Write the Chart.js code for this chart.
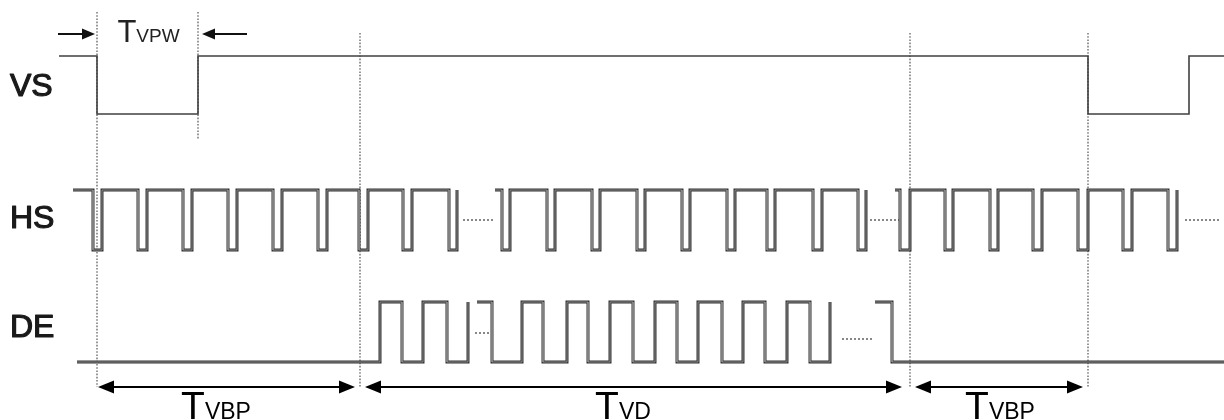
<!DOCTYPE html>
<html><head><meta charset="utf-8">
<script src="https://cdn.jsdelivr.net/npm/chart.js@4"></script>
<style>html,body{margin:0;padding:0;background:#fff;}#wrap{width:1224px;height:420px;position:relative;}</style>
</head><body><div id="wrap"><canvas id="c"></canvas></div>
<script>
// ---------------- data (time axis units, logic levels 0/1) ----------------
const signalNames = ['VS', 'HS', 'DE'];

const vsStarts = [59];
const vsEnds = [1224];
const vsStartLevels = [1];
const vsEdges = [[97, 198, 1088, 1189]];

const hsStarts = [73, 495, 895];
const hsEnds = [457, 866, 1177];
const hsStartLevels = [1, 1, 1];
const hsEdges1 = [93, 102, 138, 147, 183, 192, 228, 237, 273, 282, 318, 327, 359, 368, 403, 412, 449, 457];
const hsEdges2 = [502, 510, 547, 555, 592, 600, 637, 645, 682, 690, 727, 735, 767, 775, 813, 822, 858, 866];
const hsEdges3 = [900, 910, 945, 953, 990, 998, 1033, 1042, 1078, 1088, 1123, 1132, 1168, 1177];

const deStarts = [77, 477, 875];
const deEnds = [468, 830, 1224];
const deStartLevels = [0, 1, 1];
const deEdges1 = [380, 402, 423, 447, 468];
const deEdges2 = [492, 522, 543, 567, 588, 610, 633, 655, 677, 698, 722, 743, 765, 787, 810, 830];
const deEdges3 = [892];

const hsEllipsis = [[463, 495], [870, 900], [1185, 1220]];
const deEllipsis = [[475, 495], [842, 872]];

const markerTimes = [97, 198, 360, 910, 1088];

const spanBounds = [[97, 360], [360, 910], [910, 1088]];
const spanSubs = ['VBP', 'VD', 'VBP'];
const spanLabelCenters = [216, 623, 1000];

const pulseBounds = [97, 198];
const pulseSub = 'VPW';

// ---------------- layout / style ----------------
const lanes = { VS: { hi: 56, lo: 114 }, HS: { hi: 190, lo: 250 }, DE: { hi: 302, lo: 362 } };
const ellipsisY = { HS: [220, 220, 220], DE: [333, 339] };
const markerExtents = [[12, 387], [12, 140], [33, 387], [33, 388], [33, 388]];
const labelBaselines = { VS: 96, HS: 228, DE: 337 };
const FONT = "'Liberation Sans', Arial, sans-serif";

function yOf(lane, level) { return level ? lanes[lane].hi : lanes[lane].lo; }

function stepGroup(lane, start, end, level, edges) {
  const pts = [];
  let l = level;
  pts.push({ x: start, y: yOf(lane, l) });
  for (const e of edges) {
    pts.push({ x: e, y: yOf(lane, l) });
    l = 1 - l;
    pts.push({ x: e, y: yOf(lane, l) });
  }
  if (end > edges[edges.length - 1]) pts.push({ x: end, y: yOf(lane, l) });
  return pts;
}
function joinGroups(lane, starts, ends, levels, edgesList) {
  let pts = [];
  starts.forEach((s, i) => {
    if (i > 0) pts.push({ x: s - 0.5, y: null });
    pts = pts.concat(stepGroup(lane, s, ends[i], levels[i], edgesList[i]));
  });
  return pts;
}

const vsPts = joinGroups('VS', vsStarts, vsEnds, vsStartLevels, vsEdges);
const hsPts = joinGroups('HS', hsStarts, hsEnds, hsStartLevels, [hsEdges1, hsEdges2, hsEdges3]);
const dePts = joinGroups('DE', deStarts, deEnds, deStartLevels, [deEdges1, deEdges2, deEdges3]);

function segs(list, ys) {
  const pts = [];
  list.forEach((r, i) => {
    if (i > 0) pts.push({ x: r[0] - 0.5, y: null });
    pts.push({ x: r[0], y: ys[i] }, { x: r[1], y: ys[i] });
  });
  return pts;
}
const ellPts = segs(hsEllipsis, ellipsisY.HS).concat([{ x: 0, y: null }], segs(deEllipsis, ellipsisY.DE));
const markerPts = [];
markerTimes.forEach((t, i) => {
  if (i > 0) markerPts.push({ x: t, y: null });
  markerPts.push({ x: t, y: markerExtents[i][0] }, { x: t, y: markerExtents[i][1] });
});

function lineDs(data, color, width, order, dash) {
  return { type: 'line', data, borderColor: color, borderWidth: width, pointRadius: 0, tension: 0,
    spanGaps: false, fill: false, order, borderDash: dash || [], borderCapStyle: 'butt', borderJoinStyle: 'miter' };
}

// ---------------- annotation plugin ----------------
function arrowHead(ctx, x, y, dir, len, half) {
  ctx.beginPath();
  ctx.moveTo(x, y);
  ctx.lineTo(x - dir * len, y - half);
  ctx.lineTo(x - dir * len, y + half);
  ctx.closePath();
  ctx.fill();
}
function tLabel(ctx, cx, base, sub, bigSize, subSize) {
  ctx.font = bigSize + 'px ' + FONT;
  const wT = ctx.measureText('T').width;
  ctx.font = subSize + 'px ' + FONT;
  const wS = ctx.measureText(sub).width;
  const x0 = cx - (wT + wS) / 2;
  ctx.font = bigSize + 'px ' + FONT;
  ctx.fillText('T', x0, base);
  ctx.font = subSize + 'px ' + FONT;
  ctx.fillText(sub, x0 + wT, base);
}
const annot = {
  id: 'annot',
  afterDatasetsDraw(chart) {
    const ctx = chart.ctx, X = chart.scales.x, Y = chart.scales.y;
    ctx.save();
    ctx.fillStyle = '#000'; ctx.strokeStyle = '#000';
    ctx.textBaseline = 'alphabetic'; ctx.textAlign = 'left';
    // signal names
    ctx.font = '32px ' + FONT;
    ctx.fillStyle = '#1a1a1a'; ctx.strokeStyle = '#1a1a1a'; ctx.lineWidth = 1.2; ctx.lineJoin = 'round';
    signalNames.forEach(n => {
      const px = X.getPixelForValue(10), py = Y.getPixelForValue(labelBaselines[n]);
      ctx.fillText(n, px, py);
      ctx.strokeText(n, px, py);
    });
    ctx.fillStyle = '#000'; ctx.strokeStyle = '#000';
    // bottom span arrows
    const ay = Y.getPixelForValue(387);
    ctx.lineWidth = 2;
    spanBounds.forEach((b, i) => {
      const x1 = X.getPixelForValue(b[0]) + (i === 0 ? 1 : 5);
      const x2 = X.getPixelForValue(b[1]) - (i === 1 ? 8 : 5);
      ctx.beginPath(); ctx.moveTo(x1 + 6, ay); ctx.lineTo(x2 - 6, ay); ctx.stroke();
      arrowHead(ctx, x1, ay, -1, 16, 6.5);
      arrowHead(ctx, x2, ay, 1, 16, 6.5);
      tLabel(ctx, X.getPixelForValue(spanLabelCenters[i]), Y.getPixelForValue(419), spanSubs[i], 39, 23);
    });
    // top pulse-width arrows
    const ty = Y.getPixelForValue(34);
    ctx.lineWidth = 2;
    ctx.fillStyle = '#111'; ctx.strokeStyle = '#111';
    const p1 = X.getPixelForValue(pulseBounds[0]) - 2, p2 = X.getPixelForValue(pulseBounds[1]) + 4;
    ctx.beginPath(); ctx.moveTo(p1 - 37, ty); ctx.lineTo(p1 - 8, ty); ctx.stroke();
    arrowHead(ctx, p1, ty, 1, 13, 5.5);
    ctx.beginPath(); ctx.moveTo(p2 + 8, ty); ctx.lineTo(p2 + 45, ty); ctx.stroke();
    arrowHead(ctx, p2, ty, -1, 13, 5.5);
    ctx.fillStyle = '#222';
    tLabel(ctx, X.getPixelForValue((pulseBounds[0] + pulseBounds[1]) / 2 + 1), Y.getPixelForValue(42), pulseSub, 31, 19);
    ctx.restore();
  }
};

new Chart(document.getElementById('c'), {
  type: 'line',
  data: {
    datasets: [
      lineDs(vsPts, '#404040', 1.6, 2),
      lineDs(hsPts, '#333', 3, 3),
      lineDs(hsPts, '#8c8c8c', 1, 1),
      lineDs(dePts, '#333', 3, 3),
      lineDs(dePts, '#8c8c8c', 1, 1),
      lineDs(ellPts, '#888', 2, 4, [2, 2]),
      lineDs(markerPts, '#444', 1.1, 5, [1.6, 1.6])
    ]
  },
  options: {
    responsive: true, maintainAspectRatio: false, animation: false, events: [],
    layout: { padding: 0 },
    plugins: { legend: { display: false }, tooltip: { enabled: false }, title: { display: false } },
    scales: {
      x: { type: 'linear', min: 0, max: 1224, display: false },
      y: { type: 'linear', min: 0, max: 420, reverse: true, display: false }
    }
  },
  plugins: [annot]
});
</script></body></html>
